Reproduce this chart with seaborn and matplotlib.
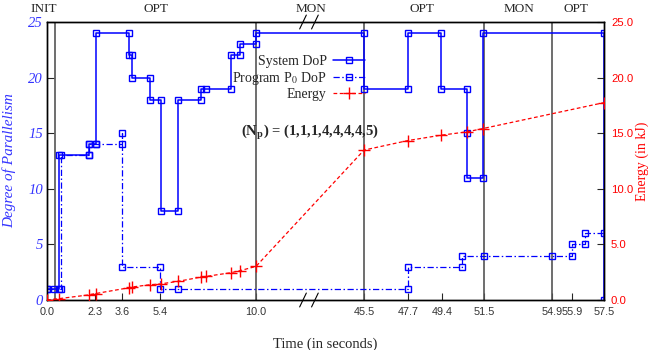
import numpy as np
import pandas as pd
import matplotlib
matplotlib.use("Agg")
import matplotlib.pyplot as plt
import matplotlib.transforms as mtransforms
from matplotlib.lines import Line2D
import seaborn as sns

# system degree of parallelism (step vertices, time in s)
sys_t = [0.0, 0.35, 0.57, 0.57, 2.0, 2.0, 2.33, 2.33, 3.92, 3.92, 4.08, 4.08, 4.91, 4.91,
         5.44, 5.44, 6.25, 6.25, 7.37, 7.37, 7.6, 8.79, 8.79, 9.22, 9.22, 10.0, 10.0,
         45.5, 45.5, 47.7, 47.7, 49.35, 49.35, 50.65, 50.65, 50.65, 51.45, 51.45, 57.5, 57.5]
sys_dop = [1, 1, 1, 13, 13, 14, 14, 24, 24, 22, 22, 20, 20, 18,
           18, 8, 8, 18, 18, 19, 19, 19, 22, 22, 23, 23, 24,
           24, 19, 19, 24, 24, 19, 19, 15, 11, 11, 24, 24, 0]

# program P0 degree of parallelism
p0_t = [0.0, 0.66, 0.66, 2.0, 2.0, 2.33, 3.6, 3.6, 3.6, 5.4, 5.4, 6.25,
        47.7, 47.7, 50.4, 50.4, 51.5, 54.9, 55.9, 55.9, 56.55, 56.55, 57.5]
p0_dop = [1, 1, 13, 13, 14, 14, 14, 15, 3, 3, 1, 1,
          1, 3, 3, 4, 4, 4, 4, 5, 5, 6, 6]

# energy (kJ)
en_t = [0.0, 0.57, 2.0, 2.33, 3.92, 4.08, 4.91, 5.44, 6.25, 7.37, 7.6, 8.79, 9.22, 10.0,
        45.5, 47.7, 49.35, 50.65, 51.45, 57.5]
en_kj = [0.0, 0.12, 0.46, 0.58, 1.1, 1.17, 1.37, 1.45, 1.67, 2.06, 2.12, 2.45, 2.63, 3.02,
         13.48, 14.34, 14.82, 15.12, 15.42, 17.75]

xtick_vals = [0.0, 2.3, 3.6, 5.4, 10.0, 45.5, 47.7, 49.4, 51.5, 54.9, 55.9, 57.5]
phase_bounds = [0.38, 10.0, 45.5, 51.5, 54.9]
phase_names = ["INIT", "OPT", "MON", "OPT", "MON", "OPT"]
phase_x = [-0.14, 5.2, 12.63, 17.95, 22.59, 25.31]   # in broken-axis units

# broken time axis: 0-10 s, gap, 45.5-57.5 s
GAP = 5.17
RSCALE = 0.957


def tmap(t):
    t = np.asarray(t, dtype=float)
    return np.where(t <= 10.0, t, 10.0 + GAP + (t - 45.5) * RSCALE)


sns.set_style("ticks")
plt.rcParams["font.family"] = ["Liberation Serif", "DejaVu Serif"]
plt.rcParams["mathtext.fontset"] = "stix"

BLUE = "#0000ff"
LBLUE = "#3535ff"
RED = "#ff0000"
SANS = "Liberation Sans"

fig = plt.figure(figsize=(6.5, 3.5), dpi=100)
ax = fig.add_axes([47 / 650, 50 / 350, 557 / 650, 278 / 350])
ax2 = ax.twinx()

for b in phase_bounds:
    ax.axvline(float(tmap(b)), color="#555555", lw=1.2, zorder=1)

df_sys = pd.DataFrame({"x": tmap(sys_t), "y": sys_dop})
df_p0 = pd.DataFrame({"x": tmap(p0_t), "y": p0_dop})
df_en = pd.DataFrame({"x": tmap(en_t), "y": en_kj})

sns.lineplot(data=df_p0, x="x", y="y", sort=False, estimator=None, ax=ax, color=BLUE,
             lw=0.9, linestyle=(0, (5, 2, 1.2, 2)), marker="s", markersize=5,
             markerfacecolor="none", markeredgecolor=BLUE, markeredgewidth=1, zorder=3)
sns.lineplot(data=df_sys, x="x", y="y", sort=False, estimator=None, ax=ax, color=BLUE,
             lw=1.1, marker="s", markersize=5, markerfacecolor="none",
             markeredgecolor=BLUE, markeredgewidth=1, zorder=4)
sns.lineplot(data=df_en, x="x", y="y", sort=False, estimator=None, ax=ax2, color=RED,
             lw=0.9, linestyle=(0, (3, 2)), marker="+", markersize=9,
             markeredgecolor=RED, markeredgewidth=1, zorder=5)

xmax = float(tmap(57.5))
ax.set_xlim(0, xmax)
ax.set_ylim(0, 25)
ax2.set_ylim(0, 25)

ax.set_xticks(tmap(xtick_vals))
ax.set_xticklabels([f"{v:.1f}" for v in xtick_vals], fontfamily=SANS, fontsize=7.8,
                   color="#333333")
ax.set_yticks([0, 5, 10, 15, 20, 25])
ax.set_yticklabels(["0", "5", "10", "15", "20", "25"], fontstyle="italic",
                   fontsize=10.5, color=LBLUE)
ax.tick_params(axis="x", direction="in", length=5, width=0.8, pad=5, top=False)
ax.tick_params(axis="y", direction="in", length=5, width=0.8, pad=3, right=False)

ax2.set_yticks([0, 5, 10, 15, 20, 25])
ax2.set_yticklabels([f"{v:.1f}" for v in [0, 5, 10, 15, 20, 25]], fontfamily=SANS,
                    fontsize=8.2, color=RED)
ax2.tick_params(axis="y", direction="in", length=5, width=0.8, pad=5)

for a in (ax, ax2):
    for s in a.spines.values():
        s.set_visible(True)
        s.set_color("black")
        s.set_linewidth(1.0)

ax.set_xlabel("Time (in seconds)", fontsize=10.5)
ax.xaxis.set_label_coords(0.499, -0.135)
ax.set_ylabel("Degree of Parallelism", fontsize=11, fontstyle="italic", color=LBLUE)
ax.yaxis.set_label_coords(-0.055, 0.5)
ax2.set_ylabel("Energy (in kJ)", fontsize=10, color=RED)
ax2.yaxis.set_label_coords(1.057, 0.5)

# phase names above the plot
trans = mtransforms.blended_transform_factory(ax.transData, ax.transAxes)
for name, px in zip(phase_names, phase_x):
    ax.text(px, 1.045, name, transform=trans, ha="center", va="center", fontsize=9.5)

# axis break marks
for yb in (0.0, 1.0):
    for xc in (12.25, 12.82):
        ax.plot([xc - 0.16, xc + 0.16], [yb - 0.025, yb + 0.025], transform=trans,
                color="black", lw=0.8, clip_on=False, zorder=6)

ax.text(12.58, 15.1, r"(N$_\mathbf{p}$) = (1,1,1,4,4,4,4,5)", ha="center", va="center",
        fontsize=10.5, fontweight="bold")

handles = [
    Line2D([], [], color=BLUE, lw=1.1, marker="s", markersize=5, markerfacecolor="none",
           markeredgewidth=1),
    Line2D([], [], color=BLUE, lw=0.9, linestyle=(0, (5, 2, 1.2, 2)), marker="s",
           markersize=5, markerfacecolor="none", markeredgewidth=1),
    Line2D([], [], color=RED, lw=0.9, linestyle=(0, (3, 2)), marker="+", markersize=9,
           markeredgewidth=1),
]
labels = ["System DoP", r"Program P$_0$ DoP", "Energy"]
ax2.legend(handles, labels, loc="upper right", bbox_to_anchor=(365 / 650, 1 - 55 / 350),
           bbox_transform=fig.transFigure, frameon=False, markerfirst=False,
           fontsize=10, handlelength=2.3, handletextpad=0.45, labelspacing=0.12,
           borderpad=0, borderaxespad=0)

fig.savefig("out.png", dpi=100)
